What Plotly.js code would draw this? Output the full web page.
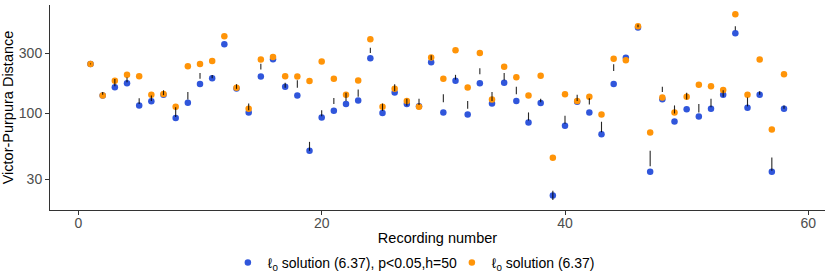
<!DOCTYPE html>
<html>
<head>
<meta charset="utf-8">
<script src="https://cdn.plot.ly/plotly-3.0.1.min.js"></script>
<style>html,body{margin:0;padding:0;background:#fff;}#chart{width:830px;height:277px;}</style>
</head>
<body>
<div id="chart"></div>
<script>
const recording = [1,2,3,4,5,6,7,8,9,10,11,12,13,14,15,16,17,18,19,20,21,22,23,24,25,26,27,28,29,30,31,32,33,34,35,36,37,38,39,40,41,42,43,44,45,46,47,48,49,50,51,52,53,54,55,56,57,58];
const bluePVals = [248,139,162,174,116,125,141,92,122,172,191,356,158,102,197,270,163,139,50.5,93,105,119,127,275,101,147,119,114,256,102,182,98,174,120,176,126,85,121,22.3,80,124,102,68.5,172,277,482,34.4,130,86.4,108,94.6,109,141,435,111,141,34.4,109];
const orangeVals = [248,139,182,203,198,141,143,113,238,247,261,412,160,109,269,282,198,197,181,259,189,141,183,390,113,157,126,113,279,189,319,161,303,129,235,194,139,200,44.4,142,126,136,98,273,265,494,70.6,134,102,136,169,165,154,616,141,269,74.6,205];
const rangeLo = [246,141,165,177,119,126,140,94,129,189,191,null,157,106,224,null,160,160,50.5,95,119,126,136,303,105,150,115,117,266,123,186,109,205,126,184,142,88,123,20.5,83,126,118,71,218,null,485,38.1,148,100,129,102,112,136,459,114,141,35,109];
const rangeHi = [250,148,188,193,132,139,153,112,148,210,202,null,171,120,249,null,176,184,59.5,106,133,146,155,333,120,171,131,131,291,142,203,126,229,148,210,163,102,131,24.3,96,141,132,86,246,null,510,50.5,163,116,146,119,131,153,494,134,150,44.7,116];
const yTicks = [30,100,300];
const xTicks = [0,20,40,60];
const blueName = 'ℓ<sub>0</sub> solution (6.37), p&lt;0.05,h=50';
const orangeName = 'ℓ<sub>0</sub> solution (6.37)';

const segX = [], segY = [];
recording.forEach((r, i) => {
  if (rangeLo[i] !== null && rangeHi[i] !== null) {
    segX.push(r, r, null);
    segY.push(rangeLo[i], rangeHi[i], null);
  }
});

const FONT = 'Liberation Sans, Arial, Helvetica, sans-serif';
const traces = [
  {x: recording, y: bluePVals, type: 'scatter', mode: 'markers', name: blueName,
   marker: {color: '#3056DB', size: 6.5}},
  {x: recording, y: orangeVals, type: 'scatter', mode: 'markers', name: orangeName,
   marker: {color: '#FF9408', size: 6.5}},
  {x: segX, y: segY, type: 'scatter', mode: 'lines', showlegend: false, hoverinfo: 'skip',
   line: {color: 'rgba(0,0,0,0.85)', width: 1.1}}
];
const layout = {
  width: 830, height: 277,
  margin: {l: 50, r: 5, t: 5, b: 67, autoexpand: false},
  paper_bgcolor: '#fff', plot_bgcolor: '#fff',
  font: {family: FONT, size: 14, color: '#000'},
  showlegend: true,
  xaxis: {
    range: [-2.33, 61.37], tickvals: xTicks, ticktext: xTicks.map(String),
    showline: true, linecolor: '#333', linewidth: 1, mirror: false,
    ticks: 'outside', ticklen: 4, tickcolor: '#333', tickwidth: 1,
    ticklabelstandoff: -4,
    tickfont: {size: 14, color: '#4d4d4d', family: FONT},
    showgrid: false, zeroline: false, automargin: false,
    title: {text: 'Recording number', font: {size: 14.5, color: '#000', family: FONT}, standoff: 3}
  },
  yaxis: {
    type: 'log', range: [1.2327, 2.8628], tickvals: yTicks, ticktext: yTicks.map(String),
    showline: true, linecolor: '#333', linewidth: 1,
    ticks: 'outside', ticklen: 4, tickcolor: '#333', tickwidth: 1,
    tickfont: {size: 14, color: '#4d4d4d', family: FONT},
    showgrid: false, zeroline: false, automargin: false,
    title: {text: 'Victor-Purpura Distance', font: {size: 14.5, color: '#000', family: FONT}, standoff: 3}
  },
  legend: {
    orientation: 'h', x: 0.2295, xanchor: 'left', y: -0.2585, yanchor: 'middle',
    font: {size: 14, color: '#000', family: FONT},
    entrywidth: 179, entrywidthmode: 'pixels',
    bgcolor: 'rgba(0,0,0,0)'
  }
};
Plotly.newPlot('chart', traces, layout, {displayModeBar: false, staticPlot: true});
</script>
</body>
</html>
